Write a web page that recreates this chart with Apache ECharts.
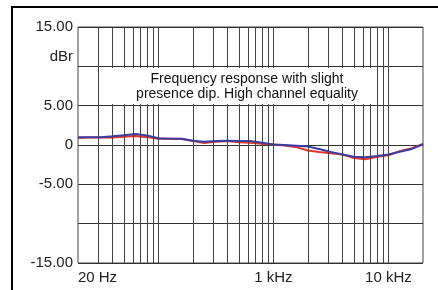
<!DOCTYPE html>
<html>
<head>
<meta charset="utf-8">
<script src="https://cdn.jsdelivr.net/npm/echarts@6/dist/echarts.min.js"></script>
<style>
  html, body { margin: 0; padding: 0; background: #fff; }
  #main { width: 438px; height: 290px; }
</style>
</head>
<body>
<div id="main"></div>
<script>
// frequencies (Hz) of the measured points
var freqs = [20, 25, 31.5, 40, 50, 63, 80, 100, 125, 160, 200, 250, 315, 400, 500, 630, 800,
    1000, 1250, 1600, 2000, 2500, 3150, 4000, 5000, 6300, 8000, 10000, 12500, 16000, 20000];
// left channel (red) and right channel (blue), dBr
var redVals = [0.9, 0.95, 0.95, 0.95, 1.05, 1.15, 1.0, 0.8, 0.8, 0.75, 0.5, 0.25, 0.4, 0.5, 0.35, 0.3, 0.15,
    0.05, -0.05, -0.3, -0.7, -0.9, -1.05, -1.2, -1.65, -1.8, -1.5, -1.3, -0.8, -0.4, 0.15];
var blueVals = [1.0, 1.0, 1.0, 1.1, 1.25, 1.4, 1.2, 0.85, 0.8, 0.8, 0.55, 0.4, 0.5, 0.55, 0.5, 0.5, 0.3,
    0.05, 0, -0.1, -0.2, -0.5, -0.9, -1.2, -1.5, -1.55, -1.4, -1.2, -0.85, -0.5, 0.1];
// vertical grid lines (Hz)
var gridFreqs = [30, 40, 50, 60, 70, 80, 90, 100, 200, 300, 400, 500, 600, 700, 800, 900,
    1000, 2000, 3000, 4000, 5000, 6000, 7000, 8000, 9000, 10000];
// tick labels
var xLabels = { 20: '20 Hz', 1000: '1 kHz', 10000: '10 kHz' };
var yLabels = { 15: '15.00', 10: 'dBr', 5: '5.00', 0: '0', '-5': '-5.00', '-15': '-15.00' };
var note = 'Frequency response with slight\npresence dip. High channel equality';

var chart = echarts.init(document.getElementById('main'));

function pairs(vals) {
    return freqs.map(function (f, i) { return [f, vals[i]]; });
}

var font = 'Liberation Sans, Arial, sans-serif';

chart.setOption({
    animation: false,
    grid: {
        left: 78, right: 15, top: 27, bottom: 27,
        show: true, borderColor: '#444', borderWidth: 1
    },
    xAxis: {
        type: 'log', logBase: 10, min: 20, max: 20000,
        axisLine: { show: false },
        axisTick: { show: false },
        splitLine: { show: false },
        axisLabel: {
            margin: 7,
            showMinLabel: true,
            color: '#222',
            fontSize: 15,
            fontFamily: font,
            formatter: function (v) {
                var k = Math.round(v);
                if (k === 20) return '{l|' + xLabels[k] + '}';
                return xLabels[k] || '';
            },
            rich: {
                l: { padding: [0, 0, 0, 39], fontSize: 15, fontFamily: font, color: '#222' }
            }
        }
    },
    yAxis: {
        type: 'value', min: -15, max: 15, interval: 5,
        axisLine: { show: false },
        axisTick: { show: false },
        splitLine: { lineStyle: { color: '#333', width: 1 } },
        axisLabel: {
            margin: 5,
            color: '#222',
            fontSize: 15,
            fontFamily: font,
            formatter: function (v) {
                var k = Math.round(v);
                if (k === 10) return '{u|dBr}';
                return yLabels[k] || '';
            },
            rich: {
                u: { padding: [0, 0, 18, 0], fontSize: 15, fontFamily: font, color: '#222' }
            }
        }
    },
    graphic: [
        {
            type: 'rect', z: 100,
            shape: { x: 100, y: 68, width: 274, height: 36 },
            style: { fill: '#fff' }
        },
        {
            type: 'text', z: 101,
            x: 247, y: 87,
            style: {
                text: note,
                font: '14px ' + font,
                fill: '#111',
                align: 'center',
                verticalAlign: 'middle',
                lineHeight: 15
            }
        },
        {
            type: 'rect', z: 101,
            shape: { x: 12, y: 7, width: 500, height: 400 },
            style: { fill: 'none', stroke: '#000', lineWidth: 2 }
        }
    ],
    series: [
        {
            type: 'line',
            data: pairs(redVals),
            showSymbol: false,
            lineStyle: { color: '#e8342a', width: 2 },
            z: 3,
            markLine: {
                silent: true,
                symbol: 'none',
                label: { show: false },
                lineStyle: { color: '#444', width: 1, type: 'solid' },
                data: gridFreqs.map(function (f) { return { xAxis: f }; })
            }
        },
        {
            type: 'line',
            data: pairs(blueVals),
            showSymbol: false,
            lineStyle: { color: '#3c3ca8', width: 2 },
            z: 4
        }
    ]
});
</script>
</body>
</html>
